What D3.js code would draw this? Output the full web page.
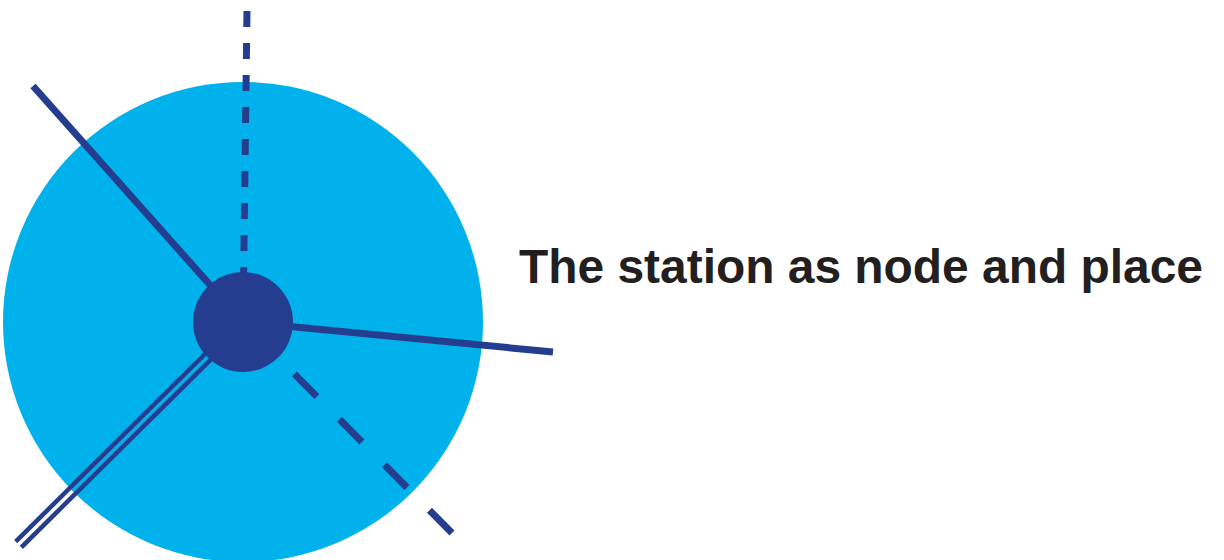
<!DOCTYPE html>
<html>
<head>
<meta charset="utf-8">
<script src="https://cdn.jsdelivr.net/npm/d3@7"></script>
<style>
  html, body { margin: 0; padding: 0; background: #fff; }
  svg { display: block; }
</style>
</head>
<body>
<svg id="chart"></svg>
<script>
// spokes leaving the station node (outer end, relative to node centre)
const spokeNames = ["north", "northwest", "east", "southwest", "southeast"];
const spokeDx    = [4, -210, 310, -224.5, 209];
const spokeDy    = [-311, -236, 30, 222.5, 211];
const spokeKind  = ["dashShort", "solid", "solid", "double", "dashLong"];

// place (big circle) and node (small circle) radii
const placeRadius = [240];
const nodeRadius = [50];

const title = ["The station as node and place"];

const width = 1224, height = 560;
const centre = {x: 243, y: 322};

const x = d3.scaleLinear().domain([-centre.x, width - centre.x]).range([0, width]);
const y = d3.scaleLinear().domain([-centre.y, height - centre.y]).range([0, height]);

const dark = "#253d8f", light = "#00b1eb";

const spokes = spokeNames.map((n, i) => ({name: n, dx: spokeDx[i], dy: spokeDy[i], kind: spokeKind[i]}));

const svg = d3.select("#chart")
    .attr("width", width)
    .attr("height", height)
    .attr("viewBox", [0, 0, width, height]);

svg.append("g")
  .selectAll("circle")
  .data(placeRadius)
  .join("circle")
    .attr("cx", x(0))
    .attr("cy", y(0))
    .attr("r", d => x(d) - x(0))
    .attr("fill", light);

const g = svg.append("g")
    .attr("stroke", dark)
    .attr("fill", "none");

// single lines, drawn from the outer end toward the node so dashes line up at the tip
g.selectAll("line.single")
  .data(spokes.filter(d => d.kind !== "double"))
  .join("line")
    .attr("class", "single")
    .attr("x1", d => x(d.dx))
    .attr("y1", d => y(d.dy))
    .attr("x2", x(0))
    .attr("y2", y(0))
    .attr("stroke-width", 7)
    .attr("stroke-dasharray", d => d.kind === "dashShort" ? "16 16" : d.kind === "dashLong" ? "32 32" : null);

// double track
const dbl = spokes.filter(d => d.kind === "double");
const offsets = [-4, 4];
dbl.forEach(d => {
  const len = Math.hypot(d.dx, d.dy);
  const px = -d.dy / len, py = d.dx / len;
  g.selectAll(null)
    .data(offsets)
    .join("line")
      .attr("x1", o => x(d.dx + px * o))
      .attr("y1", o => y(d.dy + py * o))
      .attr("x2", o => x(px * o))
      .attr("y2", o => y(py * o))
      .attr("stroke-width", 4.5);
});

svg.append("g")
  .selectAll("circle")
  .data(nodeRadius)
  .join("circle")
    .attr("cx", x(0))
    .attr("cy", y(0))
    .attr("r", d => x(d) - x(0))
    .attr("fill", dark);

svg.append("text")
    .attr("x", 519)
    .attr("y", 283)
    .attr("font-family", "'Liberation Sans Narrow', 'Liberation Sans', Arial, sans-serif")
    .attr("font-weight", "bold")
    .attr("font-size", 48)
    .attr("fill", "#231f20")
    .attr("textLength", 684)
    .attr("lengthAdjust", "spacingAndGlyphs")
    .text(title[0]);
</script>
</body>
</html>
